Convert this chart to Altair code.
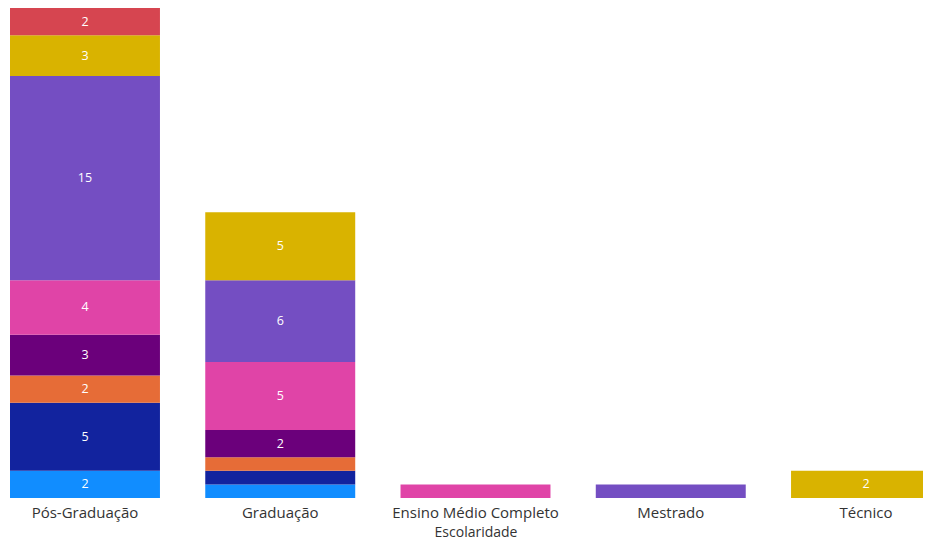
import altair as alt
import pandas as pd

categories = ["Pós-Graduação", "Graduação", "Ensino Médio Completo", "Mestrado", "Técnico"]
series = ["Série 1", "Série 2", "Série 3", "Série 4", "Série 5", "Série 6", "Série 7", "Série 8"]
colors = ["#118DFF", "#12239E", "#E66C37", "#6B007B", "#E044A7", "#744EC2", "#D9B300", "#D64550"]

# values per series (bottom to top), one per category
s1 = [2, 1, 0, 0, 0]
s2 = [5, 1, 0, 0, 0]
s3 = [2, 1, 0, 0, 0]
s4 = [3, 2, 0, 0, 0]
s5 = [4, 5, 1, 0, 0]
s6 = [15, 6, 0, 1, 0]
s7 = [3, 5, 0, 0, 2]
s8 = [2, 0, 0, 0, 0]

rows = []
for i, (name, vals) in enumerate(zip(series, [s1, s2, s3, s4, s5, s6, s7, s8])):
    for cat, v in zip(categories, vals):
        if v > 0:
            rows.append({"Escolaridade": cat, "Serie": name, "ordem": i, "Contagem": v})
df = pd.DataFrame(rows)

font = "Open Sans"

base = alt.Chart(df).transform_stack(
    stack="Contagem",
    groupby=["Escolaridade"],
    sort=[alt.SortField("ordem", order="ascending")],
    as_=["y0", "y1"],
).transform_calculate(mid="(datum.y0 + datum.y1) / 2")

x = alt.X(
    "Escolaridade:N",
    sort=categories,
    scale=alt.Scale(paddingInner=0.232, paddingOuter=0, range=[0, 931]),
    axis=alt.Axis(
        title="Escolaridade",
        labelAngle=0,
        labelFont=font,
        labelFontSize=15,
        labelColor="#333333",
        labelPadding=7,
        titleFont=font,
        titleFontSize=14,
        titleFontWeight="normal",
        titleColor="#333333",
        titlePadding=5,
        ticks=False,
        domain=False,
        grid=False,
    ),
)

yscale = alt.Scale(domain=[0, 36], nice=False)

bars = base.mark_bar(clip=False).encode(
    x=x,
    y=alt.Y("y0:Q", scale=yscale, axis=None),
    y2="y1:Q",
    color=alt.Color("Serie:N", scale=alt.Scale(domain=series, range=colors), legend=None),
)

labels = base.transform_filter("datum.Contagem >= 2").mark_text(
    font=font, fontSize=12.5, color="white", baseline="middle"
).encode(
    x=x,
    y=alt.Y("mid:Q", scale=yscale, axis=None),
    text="Contagem:Q",
)

chart = alt.layer(bars, labels).properties(
    width=913,
    height=490,
    autosize=alt.AutoSizeParams(type="none"),
    padding={"left": 2, "top": 0, "right": 0, "bottom": 43},
).configure_view(stroke=None)

chart.save("out.html", embed_options={"renderer": "svg", "actions": False})
